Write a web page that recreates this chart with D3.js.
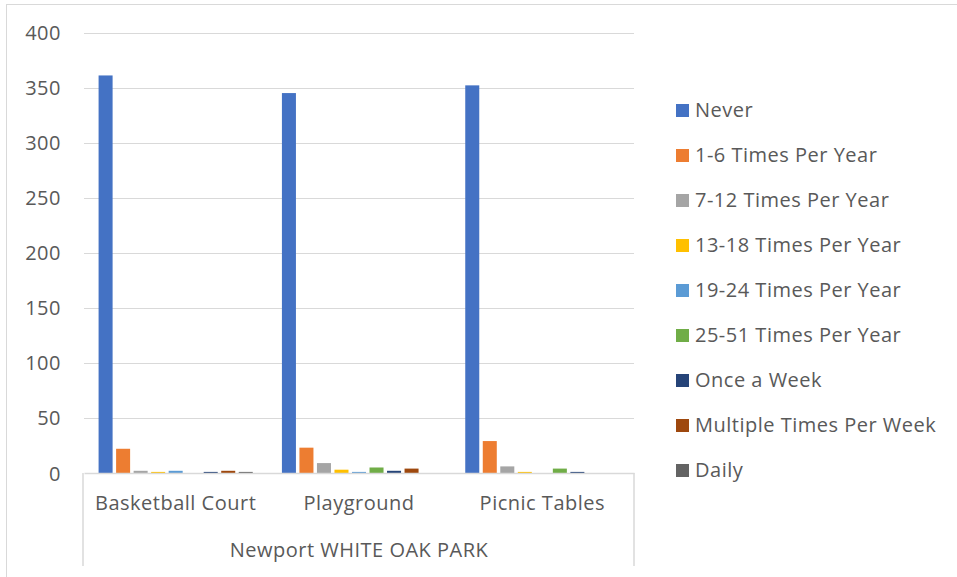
<!DOCTYPE html>
<html><head><meta charset="utf-8">
<script src="https://cdn.jsdelivr.net/npm/d3@7"></script>
<style>body{margin:0;background:#fff}svg{display:block}text{font-family:"Open Sans",sans-serif;fill:#595959;letter-spacing:0.5px}</style>
</head><body><svg id="c" width="957" height="577"></svg>
<script>
const categories = ["Basketball Court", "Playground", "Picnic Tables"];
const groupLabel = "Newport WHITE OAK PARK";
const seriesNames = ["Never", "1-6 Times Per Year", "7-12 Times Per Year", "13-18 Times Per Year", "19-24 Times Per Year", "25-51 Times Per Year", "Once a Week", "Multiple Times Per Week", "Daily"];
const seriesColors = ["#4472C4", "#ED7D31", "#A5A5A5", "#FFC000", "#5B9BD5", "#70AD47", "#264478", "#9E480E", "#636363"];
const never = [361, 345, 352];
const t1_6 = [22, 23, 29];
const t7_12 = [2, 9, 6];
const t13_18 = [1, 3, 1];
const t19_24 = [2, 1, 0];
const t25_51 = [0, 5, 4];
const onceWeek = [1, 2, 1];
const multiWeek = [2, 4, 0];
const daily = [1, 0, 0];
const yTicks = [0, 50, 100, 150, 200, 250, 300, 350, 400];

const seriesValues = [never, t1_6, t7_12, t13_18, t19_24, t25_51, onceWeek, multiWeek, daily];

const FS = "20px";
const svg = d3.select("#c");
const W = 957, H = 577;
svg.append("rect").attr("x", 6.5).attr("y", 4.5).attr("width", W).attr("height", H)
  .attr("fill", "none").attr("stroke", "#D9D9D9");

const pLeft = 84, pRight = 634, pTop = 32.5, pBottom = 473;
const y = d3.scaleLinear().domain([0, 400]).range([pBottom, pTop]);
const x0 = d3.scaleBand().domain(categories).range([pLeft, pRight]);
const innerPad = x0.bandwidth() * 0.07;
const x1 = d3.scaleBand().domain(seriesNames).range([innerPad, x0.bandwidth() - innerPad]).paddingInner(0.2).paddingOuter(0.1);

svg.append("g").selectAll("line").data(yTicks.filter(d => d > 0)).join("line")
  .attr("x1", pLeft).attr("x2", pRight)
  .attr("y1", d => Math.round(y(d)) + 0.5).attr("y2", d => Math.round(y(d)) + 0.5)
  .attr("stroke", "#D9D9D9").attr("stroke-width", 1);

const yAxis = d3.axisLeft(y).tickValues(yTicks).tickSize(0).tickPadding(0);
const ya = svg.append("g").attr("transform", `translate(61,0)`).call(yAxis);
ya.select(".domain").remove();
ya.selectAll("text").style("font-size", FS).style("font-family", "'Open Sans',sans-serif").attr("fill", "#595959").attr("dy", "0.35em");

const g = svg.append("g");
categories.forEach((c, ci) => {
  const cg = g.append("g").attr("transform", `translate(${x0(c)},0)`);
  cg.selectAll("rect").data(seriesNames.map((s, si) => ({s, v: seriesValues[si][ci], color: seriesColors[si]})))
    .join("rect")
    .attr("x", d => x1(d.s)).attr("width", x1.bandwidth())
    .attr("y", d => y(d.v)).attr("height", d => y(0) - y(d.v))
    .attr("fill", d => d.color);
});

const xAxis = d3.axisBottom(x0).tickSize(0).tickPadding(23);
const xa = svg.append("g").attr("transform", `translate(0,${pBottom})`).call(xAxis);
xa.select(".domain").attr("stroke", "#D9D9D9").attr("stroke-width", 1.5);
xa.selectAll("text").style("font-size", FS).style("font-family", "'Open Sans',sans-serif").attr("fill", "#595959");
svg.append("line").attr("x1", pLeft - 1).attr("x2", pLeft - 1).attr("y1", pBottom).attr("y2", 566).attr("stroke", "#D9D9D9").attr("stroke-width", 1.5);
svg.append("line").attr("x1", pRight).attr("x2", pRight).attr("y1", pBottom).attr("y2", 566).attr("stroke", "#D9D9D9").attr("stroke-width", 1.5);
svg.append("text").attr("x", (pLeft + pRight) / 2).attr("y", 557).attr("text-anchor", "middle")
  .style("font-size", FS).text(groupLabel);

const lg = svg.append("g").attr("transform", "translate(676,0)");
const ly = d3.scalePoint().domain(seriesNames).range([110, 470]);
seriesNames.forEach((s, i) => {
  lg.append("rect").attr("x", 0).attr("y", ly(s) - 6).attr("width", 13).attr("height", 13).attr("fill", seriesColors[i]);
  lg.append("text").attr("x", 19).attr("y", ly(s)).attr("dy", "0.36em").style("font-size", FS).text(s);
});
</script></body></html>
